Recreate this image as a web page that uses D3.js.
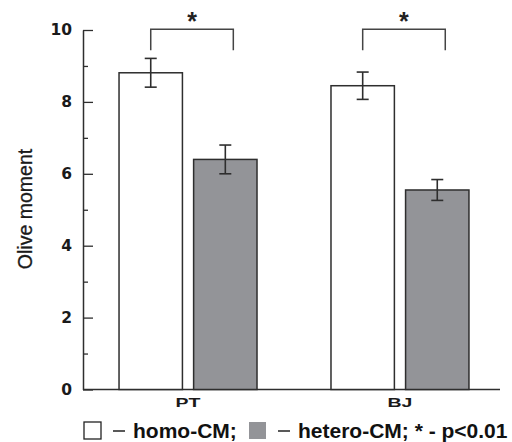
<!DOCTYPE html>
<html><head><meta charset="utf-8">
<script src="https://cdn.jsdelivr.net/npm/d3@7"></script>
<style>body{margin:0;background:#fff}svg{display:block}</style>
</head><body>
<svg id="c" width="512" height="442"></svg>
<script>
const categories = ["PT", "BJ"];
const series = ["homo-CM", "hetero-CM"];
const means = [[8.81, 6.40], [8.45, 5.55]];
const errors = [[0.40, 0.40], [0.38, 0.29]];
const yTicks = [0, 2, 4, 6, 8, 10];
const yMinorTicks = [1, 3, 5, 7, 9];
const sigLabel = "*";
const legendText = ["homo-CM;", "hetero-CM; * - p<0.01"];

const svg = d3.select("#c");
const m = {left: 83, top: 30, right: 505, bottom: 389.5};
const y = d3.scaleLinear().domain([0, 10]).range([m.bottom, m.top]);
const x0 = d3.scaleBand().domain(categories).range([m.left, m.right]).paddingInner(0.349).paddingOuter(0.17);
const x1 = d3.scaleBand().domain(series).range([0, x0.bandwidth()]).paddingInner(0.15);
const fills = ["#ffffff", "#939498"];
const dark = "#2e2e2e";

// y axis (ticks inward)
const gy = svg.append("g").attr("transform", `translate(${m.left},0)`)
  .call(d3.axisLeft(y).tickValues(yTicks).tickSizeInner(-10).tickSizeOuter(0).tickPadding(11));
gy.select(".domain").attr("stroke", dark).attr("stroke-width", 1.5);
gy.selectAll(".tick line").attr("stroke", dark).attr("stroke-width", 1.3);
gy.selectAll(".tick text").attr("font-family", "DejaVu Sans").attr("font-weight", "bold")
  .attr("font-size", 15.5).attr("fill", "#1a1a1a");
const gym = svg.append("g").attr("transform", `translate(${m.left},0)`)
  .call(d3.axisLeft(y).tickValues(yMinorTicks).tickSizeInner(-5).tickSizeOuter(0).tickFormat(""));
gym.select(".domain").remove();
gym.selectAll(".tick line").attr("stroke", dark).attr("stroke-width", 1.3);

// x axis line
svg.append("line").attr("x1", m.left).attr("x2", 500).attr("y1", y(0)).attr("y2", y(0))
  .attr("stroke", dark).attr("stroke-width", 1.5);

// bars
categories.forEach((c, ci) => {
  const g = svg.append("g").attr("transform", `translate(${x0(c)},0)`);
  series.forEach((s, si) => {
    const v = means[ci][si], e = errors[ci][si];
    g.append("rect").attr("x", x1(s)).attr("y", y(v)).attr("width", x1.bandwidth())
      .attr("height", y(0) - y(v)).attr("fill", fills[si]).attr("stroke", dark).attr("stroke-width", 1.5);
    const cx = x1(s) + x1.bandwidth() / 2;
    g.append("line").attr("x1", cx).attr("x2", cx).attr("y1", y(v + e)).attr("y2", y(v - e))
      .attr("stroke", dark).attr("stroke-width", 1.6);
    [v + e, v - e].forEach(t => g.append("line").attr("x1", cx - 6).attr("x2", cx + 6)
      .attr("y1", y(t)).attr("y2", y(t)).attr("stroke", dark).attr("stroke-width", 1.6));
  });
  // significance bracket
  const lx = x1(series[0]) + x1.bandwidth() / 2;
  const rx = x1(series[1]) + x1.bandwidth() / 2 + 8;
  g.append("path").attr("d", `M${lx},${y(9.44)}V${y(10.02)}H${rx}V${y(9.44)}`)
    .attr("fill", "none").attr("stroke", "#444").attr("stroke-width", 1.5);
  g.append("text").attr("x", (lx + rx) / 2).attr("y", y(10.0)).attr("text-anchor", "middle")
    .attr("font-family", "Liberation Sans").attr("font-weight", "bold").attr("font-size", 25)
    .attr("fill", "#222").text(sigLabel);
  // category label
  const cxg = x0.bandwidth() / 2;
  g.append("text").attr("transform", `translate(${cxg},407) scale(1.5,1)`).attr("text-anchor", "middle")
    .attr("font-family", "Liberation Sans").attr("font-weight", "bold").attr("font-size", 13)
    .attr("fill", "#1a1a1a").text(c);
});

// y title
svg.append("text").attr("transform", "translate(32,209) rotate(-90)").attr("text-anchor", "middle")
  .attr("font-family", "Liberation Sans").attr("font-size", 19.5).attr("fill", "#1a1a1a")
  .attr("stroke", "#1a1a1a").attr("stroke-width", 0.3).text("Olive moment");

// legend
const lg = svg.append("g");
lg.append("rect").attr("x", 84).attr("y", 422).attr("width", 17).attr("height", 17)
  .attr("fill", fills[0]).attr("stroke", "#222").attr("stroke-width", 1.3);
lg.append("line").attr("x1", 113).attr("x2", 125).attr("y1", 431).attr("y2", 431).attr("stroke", "#222").attr("stroke-width", 1.5);
lg.append("text").attr("x", 133).attr("y", 438).attr("font-family", "Liberation Sans").attr("font-weight", "bold")
  .attr("font-size", 21).attr("fill", "#111").text(legendText[0]);
lg.append("rect").attr("x", 249).attr("y", 422).attr("width", 17).attr("height", 17)
  .attr("fill", fills[1]);
lg.append("line").attr("x1", 278).attr("x2", 290).attr("y1", 431).attr("y2", 431).attr("stroke", "#222").attr("stroke-width", 1.5);
lg.append("text").attr("x", 298).attr("y", 438).attr("font-family", "Liberation Sans").attr("font-weight", "bold")
  .attr("font-size", 21).attr("fill", "#111").text(legendText[1]);
</script>
</body></html>
